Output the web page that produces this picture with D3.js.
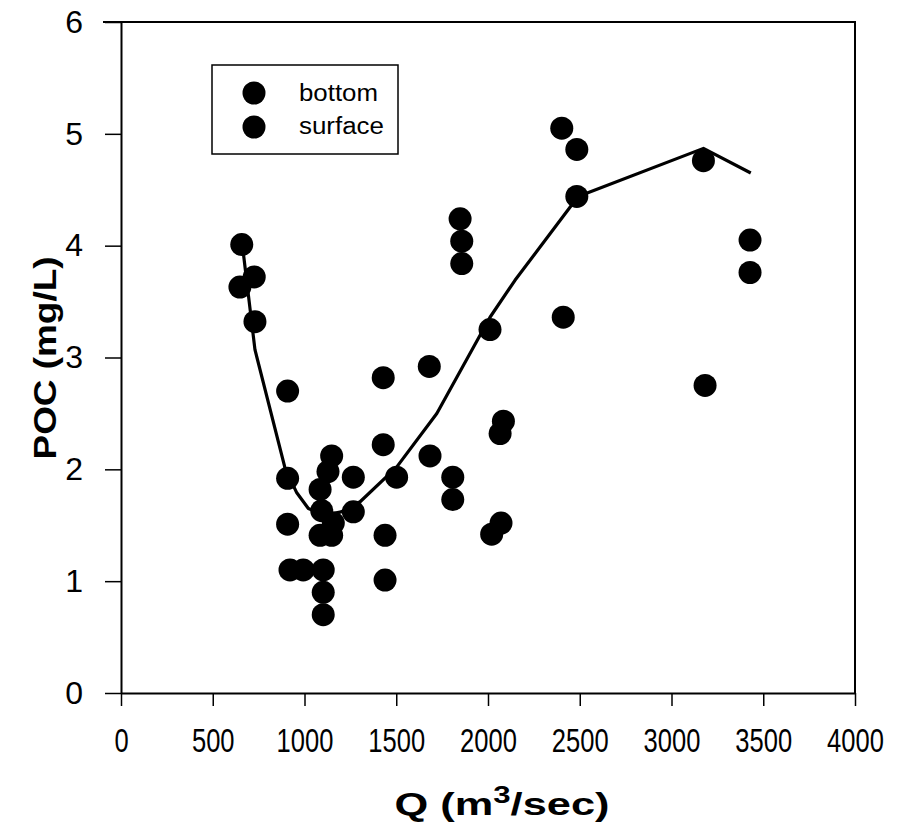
<!DOCTYPE html>
<html>
<head>
<meta charset="utf-8">
<script src="https://cdn.jsdelivr.net/npm/d3@7"></script>
<style>
  body { margin: 0; background: #fff; }
  svg { display: block; font-family: "Liberation Sans", Arial, sans-serif; }
</style>
</head>
<body>
<svg id="chart" width="900" height="830"></svg>
<script>
// discharge Q (m3/sec) and POC (mg/L) for each sample
const qValues = [658, 648, 726, 730, 908, 908, 908, 921, 993, 1102, 1102, 1102,
  1148, 1128, 1085, 1094, 1157, 1085, 1148, 1266, 1266, 1429, 1429, 1439, 1439,
  1502, 1680, 1684, 1808, 1808, 1848, 1857, 1857, 2011, 2020, 2071, 2084, 2066,
  2402, 2484, 2484, 2410, 3174, 3183, 3428, 3428];
const pocValues = [4.01, 3.63, 3.72, 3.32, 2.70, 1.92, 1.51, 1.10, 1.10, 1.10, 0.90, 0.70,
  2.12, 1.98, 1.82, 1.63, 1.52, 1.41, 1.41, 1.93, 1.62, 2.82, 2.22, 1.41, 1.01,
  1.93, 2.92, 2.12, 1.93, 1.73, 4.24, 4.04, 3.84, 3.25, 1.42, 1.52, 2.43, 2.32,
  5.05, 4.86, 4.44, 3.36, 4.76, 2.75, 4.05, 3.76];

// fitted trend line
const fitQ = [667, 730, 894, 958, 1021, 1112, 1200, 1303, 1502, 1721, 2011, 2147, 2491, 3174, 3432];
const fitPoc = [3.93, 3.07, 2.01, 1.79, 1.65, 1.59, 1.62, 1.71, 2.02, 2.50, 3.36, 3.69, 4.44, 4.87, 4.65];

const xTicks = [0, 500, 1000, 1500, 2000, 2500, 3000, 3500, 4000];
const yTicks = [0, 1, 2, 3, 4, 5, 6];
const legendLabels = ['bottom', 'surface'];

const svg = d3.select('#chart');
const plot = { left: 121, right: 855, top: 22, bottom: 693 };

const x = d3.scaleLinear().domain([0, 4000]).range([plot.left, plot.right]);
const y = d3.scaleLinear().domain([0, 6]).range([plot.bottom, plot.top]);

// frame (top and right borders)
svg.append('path')
  .attr('d', `M${plot.left - 18},${plot.top}H${plot.right}V${plot.bottom}`)
  .attr('fill', 'none')
  .attr('stroke', '#000')
  .attr('stroke-width', 2);

// y axis
const yAxis = svg.append('g')
  .attr('transform', `translate(${plot.left},0)`)
  .call(d3.axisLeft(y).tickValues(yTicks).tickFormat(d3.format('d'))
    .tickSize(16).tickSizeOuter(0).tickPadding(22));
yAxis.selectAll('text')
  .attr('font-size', 32)
  .attr('font-family', '"Liberation Sans", Arial, sans-serif')
  .attr('fill', '#000');

// x axis
const xAxis = svg.append('g')
  .attr('transform', `translate(0,${plot.bottom})`)
  .call(d3.axisBottom(x).tickValues(xTicks).tickFormat(d3.format('d'))
    .tickSize(13).tickSizeOuter(0).tickPadding(23));
xAxis.selectAll('text')
  .attr('font-size', 33)
  .attr('font-family', '"Liberation Sans", Arial, sans-serif')
  .attr('fill', '#000')
  .attr('textLength', (d) => String(d).length * 14.2)
  .attr('lengthAdjust', 'spacingAndGlyphs');

[xAxis, yAxis].forEach((a) => {
  a.select('.domain').attr('stroke-width', 2);
  a.selectAll('.tick line').attr('stroke-width', 1.5);
});

// trend line
const line = d3.line()
  .x((d, i) => x(fitQ[i]))
  .y((d, i) => y(fitPoc[i]));
svg.append('path')
  .datum(fitQ)
  .attr('d', line)
  .attr('fill', 'none')
  .attr('stroke', '#000')
  .attr('stroke-width', 3.2)
  .attr('stroke-linejoin', 'round');

// points
svg.append('g')
  .selectAll('circle')
  .data(qValues)
  .enter()
  .append('circle')
  .attr('cx', (d) => x(d))
  .attr('cy', (d, i) => y(pocValues[i]))
  .attr('r', 11.5)
  .attr('fill', '#000');

// legend
const legend = svg.append('g');
legend.append('rect')
  .attr('x', 212).attr('y', 65)
  .attr('width', 186).attr('height', 89)
  .attr('fill', '#fff')
  .attr('stroke', '#000')
  .attr('stroke-width', 1.5);
legendLabels.forEach((label, i) => {
  legend.append('circle')
    .attr('cx', 254).attr('cy', 93 + i * 34)
    .attr('r', 11.5)
    .attr('fill', '#000');
  legend.append('text')
    .attr('x', 299).attr('y', 101 + i * 33)
    .attr('font-size', 23)
    .attr('textLength', i === 0 ? 79 : 85)
    .attr('lengthAdjust', 'spacingAndGlyphs')
    .text(label);
});

// fit a label to a measured width
function stretchTo(sel, cx, cy, width, rotate) {
  const w = sel.node().getBBox().width;
  sel.attr('transform', `translate(${cx},${cy})${rotate ? ' rotate(-90)' : ''} scale(${width / w},1)`);
}

// y axis title
const yTitle = svg.append('text')
  .attr('text-anchor', 'middle')
  .attr('font-size', 32)
  .attr('font-weight', 'bold')
  .text('POC (mg/L)');
stretchTo(yTitle, 56, 358, 203, true);

// x axis title
const xTitle = svg.append('text')
  .attr('text-anchor', 'middle')
  .attr('font-size', 32)
  .attr('font-weight', 'bold');
xTitle.append('tspan').text('Q (m');
xTitle.append('tspan').attr('font-size', 23).attr('dy', -12).text('3');
xTitle.append('tspan').attr('dy', 12).text('/sec)');
stretchTo(xTitle, 502, 815, 215, false);
</script>
</body>
</html>
